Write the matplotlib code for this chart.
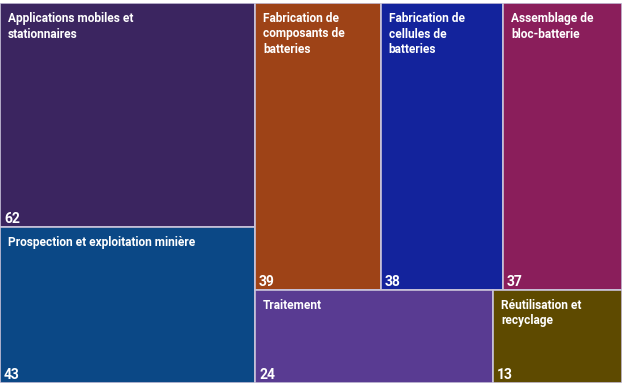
import matplotlib
matplotlib.use("Agg")
import matplotlib.pyplot as plt
from matplotlib.patches import Rectangle

# Données du treemap
left_labels = ["Applications mobiles et\nstationnaires", "Prospection et exploitation minière"]
left_values = [62, 43]
left_colors = ["#3B2560", "#0B4886"]

top_labels = ["Fabrication de\ncomposants de\nbatteries", "Fabrication de\ncellules de\nbatteries", "Assemblage de\nbloc-batterie"]
top_values = [39, 38, 37]
top_colors = ["#9E4317", "#13239C", "#8A1E5B"]

bottom_labels = ["Traitement", "Réutilisation et\nrecyclage"]
bottom_values = [24, 13]
bottom_colors = ["#593B92", "#5E4A00"]

W, H = 624, 387
fig = plt.figure(figsize=(W / 100, H / 100), dpi=100)
ax = fig.add_axes([0, 4 / H, 622 / W, 380 / H])
ax.set_xlim(0, 1)
ax.set_ylim(0, 1)
ax.axis("off")

total = sum(left_values) + sum(top_values) + sum(bottom_values)
left_w = sum(left_values) / total
right_w = 1 - left_w
top_h = sum(top_values) / (sum(top_values) + sum(bottom_values))

cells = []
# colonne gauche (empilée verticalement)
y = 1.0
for lab, v, c in zip(left_labels, left_values, left_colors):
    h = v / sum(left_values)
    cells.append((0, y - h, left_w, h, lab, v, c))
    y -= h
# rangée du haut à droite
x = left_w
for lab, v, c in zip(top_labels, top_values, top_colors):
    w = right_w * v / sum(top_values)
    cells.append((x, 1 - top_h, w, top_h, lab, v, c))
    x += w
# rangée du bas à droite
x = left_w
for lab, v, c in zip(bottom_labels, bottom_values, bottom_colors):
    w = right_w * v / sum(bottom_values)
    cells.append((x, 0, w, 1 - top_h, lab, v, c))
    x += w

px_x = 1 / 622
px_y = 1 / 380
for x0, y0, w, h, lab, v, c in cells:
    ax.add_patch(Rectangle((x0, y0), w, h, facecolor=c, edgecolor="#C9C3DA", linewidth=1.2))
    ax.text(x0 + 8 * px_x, y0 + h - 9 * px_y, lab, color="white", fontsize=8.6,
            fontweight="bold", family="Roboto", va="top", ha="left", linespacing=1.25)
    ax.text(x0 + 4 * px_x, y0 + 1 * px_y, str(v), color="white", fontsize=10,
            fontweight="bold", family="Roboto", va="bottom", ha="left")

fig.savefig("out.png", dpi=100, facecolor="white")
